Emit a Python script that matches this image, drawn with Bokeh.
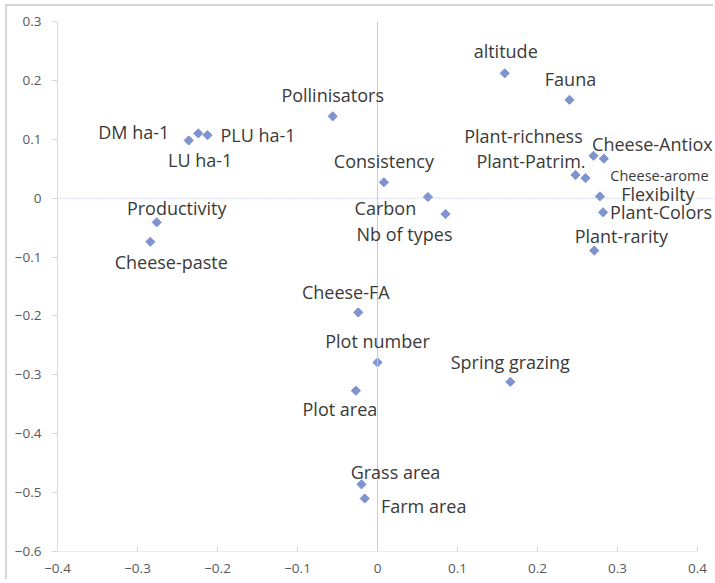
from bokeh.plotting import figure
from bokeh.models import ColumnDataSource, Span, FixedTicker, LabelSet
from bokeh.core.properties import value
from bokeh.embed import file_html
from bokeh.resources import INLINE
import math

# ---- data ----
names = ["Pollinisators", "altitude", "Fauna", "DM ha-1", "PLU ha-1", "LU ha-1",
         "Productivity", "Cheese-paste", "Consistency", "Carbon", "Nb of types",
         "Plant-richness", "Cheese-Antiox", "Plant-Patrim.", "Cheese-arome",
         "Flexibilty", "Plant-Colors", "Plant-rarity", "Cheese-FA", "Plot number",
         "Spring grazing", "Plot area", "Grass area", "Farm area"]
xs = [-0.056, 0.159, 0.240, -0.224, -0.2125, -0.236,
      -0.276, -0.284, 0.008, 0.063, 0.085,
      0.270, 0.283, 0.2475, 0.260,
      0.278, 0.282, 0.271, -0.024, 0.000,
      0.166, -0.027, -0.020, -0.016]
ys = [0.139, 0.212, 0.167, 0.110, 0.107, 0.098,
      -0.041, -0.074, 0.027, 0.002, -0.027,
      0.072, 0.067, 0.0395, 0.034,
      0.003, -0.024, -0.089, -0.194, -0.279,
      -0.312, -0.327, -0.486, -0.510]
x_ticks = [-0.4, -0.3, -0.2, -0.1, 0, 0.1, 0.2, 0.3, 0.4]
y_ticks = [-0.6, -0.5, -0.4, -0.3, -0.2, -0.1, 0, 0.1, 0.2, 0.3]

# ---- label placement (pixels, relative to marker; dy positive = down) ----
dx = [0, 1, 1, -64.5, 50.5, 11.5, 20, 21, 0, -42.5, -41,
      -70, 48.5, -44.5, 74, 58, 58, 27, -12.5, 0, 0, -16, 34, 59]
dy = [-21, -22, -21, -1, 0, 20, -14, 20, -21, 11, 20,
      -20, -15, -14, -3, -2, 0, -15, -20, -21, -20, 18, -12, 7]
fs = ["18px"] * len(names)
fs[names.index("Cheese-arome")] = "14.5px"

src = ColumnDataSource(dict(x=xs, y=ys, name=names, dx=dx,
                            ndy=[-d for d in dy], fs=fs))

# plot area extends slightly beyond the last tick (as in the original)
x_end = x_ticks[-1] + 0.0225
p = figure(width=708, height=575, output_backend="svg", toolbar_location=None,
           x_range=(x_ticks[0], x_end), y_range=(y_ticks[0], y_ticks[-1]),
           min_border_left=50, min_border_right=0, min_border_top=15, min_border_bottom=30,
           styles={"margin-left": "7px", "margin-top": "6px",
                   "box-shadow": "-2px -2px 0 0 #d6d6d6"})
p.outline_line_color = None
p.xgrid.visible = False
p.ygrid.visible = False
p.background_fill_color = "white"

p.add_layout(Span(location=0, dimension="height", line_color="#c3cdea", line_width=1))
p.add_layout(Span(location=0, dimension="width", line_color="#9fb0dc", line_width=1,
                  line_dash="1 2"))
# bottom axis line only up to the last tick
p.segment(x0=[x_ticks[0]], y0=[y_ticks[0]], x1=[x_ticks[-1]], y1=[y_ticks[0]],
          line_color="#d9d9d9", line_width=1)

p.scatter("x", "y", source=src, marker="square", size=6.5, angle=math.pi / 4,
          fill_color="#7f93cf", line_color="#7f93cf")
labels = LabelSet(x="x", y="y", text="name", source=src, x_offset="dx", y_offset="ndy",
                  text_align="center", text_baseline="middle",
                  text_font=value("Open Sans"),
                  text_font_size="fs", text_color="#3a3a3a")
p.add_layout(labels)

for ax in (p.xaxis[0], p.yaxis[0]):
    ax.axis_line_color = "#d9d9d9"
    ax.major_tick_line_color = "#d9d9d9"
    ax.minor_tick_line_color = None
    ax.major_label_text_font = "Open Sans"
    ax.major_label_text_font_size = "13.5px"
    ax.major_label_text_color = "#595959"
p.xaxis.axis_line_color = None

p.xaxis.ticker = FixedTicker(ticks=x_ticks)
p.yaxis.ticker = FixedTicker(ticks=y_ticks)
p.xaxis.major_tick_in = 5
p.xaxis.major_tick_out = 0
p.yaxis.major_tick_in = 0
p.yaxis.major_tick_out = 6
p.xaxis.major_label_standoff = 12
p.yaxis.major_label_standoff = 10

open("out.html", "w").write(file_html(p, INLINE))
